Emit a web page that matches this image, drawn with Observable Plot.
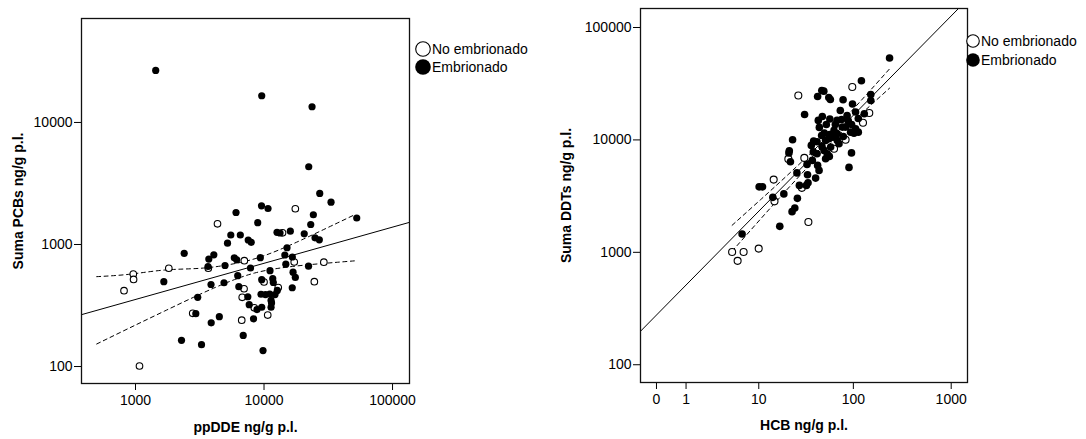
<!DOCTYPE html>
<html>
<head>
<meta charset="utf-8">
<script src="https://cdn.jsdelivr.net/npm/d3@7"></script>
<script src="https://cdn.jsdelivr.net/npm/@observablehq/plot@0.6"></script>
<style>
  html, body { margin: 0; padding: 0; background: #fff; }
  #wrap { position: relative; width: 1086px; height: 439px; overflow: hidden; background: #fff;
          font-family: "Liberation Sans", Arial, sans-serif; color: #000; }
  #left, #right { position: absolute; top: 0; }
  #left { left: 0; }
  #right { left: 540px; }
  .legend { position: absolute; font-size: 14px; line-height: 18px; }
  .legend .row { display: flex; align-items: center; height: 18px; white-space: nowrap; }
  .legend svg { display: block; margin-right: 1px; }
</style>
</head>
<body>
<div id="wrap">
  <div id="left"></div>
  <div id="right"></div>
  <div class="legend" id="legLeft" style="left:415px; top:40px;"></div>
  <div class="legend" id="legRight" style="left:966px; top:31px;"></div>
</div>
<script>
// ---------- Left panel: ppDDE vs Suma PCBs (ng/g p.l.) ----------
const pcbOpenDDE = [17520, 4345, 13930, 3686, 7027, 17180, 29200, 1816, 961, 966, 814, 10000, 24630, 6990, 12900, 6765, 8404, 2787, 6706, 10685, 1074];
const pcbOpenPCB = [1962, 1478, 1247, 639, 737, 719, 716, 639, 573, 517, 418, 493, 496, 434, 444, 369, 303, 273, 240, 264, 101];
const pcbFilledDDE = [1436, 9597, 23640, 22280, 27140, 33220, 6056, 9561, 10742, 24200, 52650, 8930, 23090, 5515, 6540, 5200, 7535, 7950, 12620, 13320, 16020, 20550, 24940, 26940, 15100, 2393, 4068, 3719, 3666, 5872, 6130, 9358, 14520, 16610, 14780, 22200, 4972, 7850, 11135, 16820, 17520, 1661, 3869, 4883, 6243, 9597, 11690, 11810, 6367, 12690, 16580, 3048, 7481, 9477, 10270, 11075, 12180, 11340, 11440, 11340, 7670, 8820, 9597, 2946, 4490, 3882, 8285, 2280, 3264, 6889, 9822];
const pcbFilledPCB = [26680, 16550, 13450, 4335, 2619, 2222, 1829, 2076, 1973, 1752, 1649, 1509, 1458, 1196, 1196, 1025, 1089, 1042, 1259, 1242, 1285, 1224, 1135, 1093, 940, 847, 823, 760, 660, 778, 749, 780, 820, 790, 690, 664, 673, 642, 610, 593, 537, 496, 470, 486, 555, 515, 525, 488, 451, 420, 442, 369, 373, 391, 389, 393, 389, 348, 332, 306, 321, 293, 306, 271, 256, 228, 246, 164, 151, 180, 135];
// fit in log10 space: log10(PCB) = a + b*log10(DDE)
const pcbFit = [1.6603, 0.2964];
// 95% confidence band of the mean
const pcbCiDDE   = [499, 906, 1697, 3177, 5438, 8511, 13320, 22800, 50430];
const pcbCiUpper = [545, 571, 618, 638, 686, 765, 910, 1174, 1748];
const pcbCiLower = [153, 208, 286, 391, 499, 585, 641, 684, 734];
const pcbXTicks = [1000, 10000, 100000];
const pcbYTicks = [100, 1000, 10000];
const pcbXLabel = "ppDDE ng/g p.l.";
const pcbYLabel = "Suma PCBs ng/g p.l.";

// ---------- Right panel: HCB vs Suma DDTs (ng/g p.l.) ----------
const ddtOpenHCB = [97.5, 26.8, 145.7, 125.6, 83.2, 63.2, 21.0, 31.0, 29.2, 14.6, 14.9, 34.2, 4.89, 6.71, 9.98, 5.70];
const ddtOpenDDT = [29590, 24860, 17380, 14220, 10040, 8350, 6780, 6920, 3745, 4437, 2840, 1860, 1006, 1006, 1079, 840];
const ddtFilledHCB = [235, 121, 47.2, 49.5, 42.7, 55.8, 57.9, 78.4, 151, 151, 98, 105.4, 129.5, 31.2, 47.8, 57.2, 67.9, 86.2, 88.7, 75.7, 95.9, 105.4, 112.4, 77, 83.2, 93.7, 101.5, 63.2, 68.3, 60.7, 56.1, 50.1, 47, 56.9, 68.3, 71.1, 51.7, 58.3, 47.4, 53.8, 49.8, 51.7, 56.5, 95.7, 90.2, 23.3, 38.8, 42.1, 38.5, 42.1, 21.5, 21.3, 22.1, 33.1, 42.7, 44.2, 25.9, 33.5, 40.7, 33.9, 32.6, 27.5, 11.0, 10.1, 18.8, 14.3, 26.2, 24.6, 23.0, 17.0, 6.44, 73.4, 44.5, 78.8, 36.7, 65.2, 52.6, 112.4, 43.4, 37.6];
const ddtFilledDDT = [53560, 33590, 27540, 27150, 24360, 23870, 22910, 22770, 25380, 22450, 20890, 17740, 17100, 16850, 16180, 15370, 14910, 16510, 14760, 15210, 13730, 12580, 11730, 13000, 13000, 11730, 11490, 12150, 11350, 10590, 10250, 11490, 10960, 11190, 9900, 9250, 9900, 8630, 8755, 7540, 8070, 6805, 7135, 7665, 5695, 10040, 9760, 9640, 7825, 7540, 8020, 7665, 6400, 6055, 5935, 5355, 5090, 4905, 4575, 4165, 3940, 3940, 3822, 3822, 3311, 3083, 3020, 2476, 2300, 1703, 1454, 18290, 12920, 10740, 8935, 13730, 13730, 15530, 14910, 6575];
// fit: log10(DDT) = a + b*log10(1 + HCB)
const ddtFit = [2.4421, 0.8869];
const ddtCiHCB   = [4.89, 10.42, 22.07, 51.35, 117.8, 235];
const ddtCiUpper = [1741, 2929, 5132, 10250, 21990, 42850];
const ddtCiLower = [1023, 1969, 3900, 8352, 16720, 28870];
const ddtXTicks = [0, 1, 10, 100, 1000];
const ddtYTicks = [100, 1000, 10000, 100000];
const ddtXLabel = "HCB ng/g p.l.";
const ddtYLabel = "Suma DDTs ng/g p.l.";

const legendLabels = ["No embrionado", "Embrionado"];

// ---------- helpers ----------
const zip = (xs, ys) => xs.map((x, i) => ({x, y: ys[i]}));
const fmt = d => String(d);
const FONT = "'Liberation Sans', Arial, sans-serif";
const dash = "4,3.5";

// ---------- Left chart ----------
const leftX = [380, 135500], leftY = [72.6, 71100];
const pcbReg = leftX.map(x => ({x, y: Math.pow(10, pcbFit[0] + pcbFit[1] * Math.log10(x))}));

const left = Plot.plot({
  width: 420, height: 439,
  marginLeft: 81, marginRight: 11, marginTop: 18, marginBottom: 56,
  x: {type: "log", domain: leftX},
  y: {type: "log", domain: leftY},
  style: {fontFamily: FONT, fontSize: "14px", color: "#000", background: "transparent", overflow: "visible"},
  marks: [
    Plot.axisX({ticks: pcbXTicks, tickFormat: fmt, tickSize: 7, tickPadding: 5, label: null, stroke: "#000"}),
    Plot.axisY({ticks: pcbYTicks, tickFormat: fmt, tickSize: 7, tickPadding: 2, label: null, stroke: "#000"}),
    Plot.line(pcbReg, {x: "x", y: "y", stroke: "#000", strokeWidth: 1, clip: true}),
    Plot.line(zip(pcbCiDDE, pcbCiUpper), {x: "x", y: "y", stroke: "#000", strokeWidth: 1, strokeDasharray: dash, curve: "natural"}),
    Plot.line(zip(pcbCiDDE, pcbCiLower), {x: "x", y: "y", stroke: "#000", strokeWidth: 1, strokeDasharray: dash, curve: "natural"}),
    Plot.dot(zip(pcbOpenDDE, pcbOpenPCB), {x: "x", y: "y", r: 3.3, fill: "#fff", stroke: "#000", strokeWidth: 1.1}),
    Plot.dot(zip(pcbFilledDDE, pcbFilledPCB), {x: "x", y: "y", r: 3.6, fill: "#000", stroke: "none"}),
    Plot.frame({stroke: "#111", strokeWidth: 1.3}),
    Plot.text([pcbXLabel], {text: d => d, frameAnchor: "bottom", dy: 44, fontWeight: "bold", fontSize: 14, textAnchor: "middle", lineAnchor: "middle", fill: "#000"}),
    Plot.text([pcbYLabel], {text: d => d, frameAnchor: "left", dx: -63, rotate: -90, fontWeight: "bold", fontSize: 14, textAnchor: "middle", lineAnchor: "middle", fill: "#000"})
  ]
});
document.getElementById("left").appendChild(left);

// ---------- Right chart ----------
const rightX = [-0.4545, 1466], rightY = [69.5, 147600];
const tr = x => Math.sign(x) * Math.log10(1 + Math.abs(x));
const ddtReg = rightX.map(x => ({x, y: Math.pow(10, ddtFit[0] + ddtFit[1] * tr(x))}));

const right = Plot.plot({
  width: 440, height: 439,
  marginLeft: 100, marginRight: 13, marginTop: 8, marginBottom: 57,
  x: {type: "symlog", domain: rightX, constant: 1},
  y: {type: "log", domain: rightY},
  style: {fontFamily: FONT, fontSize: "14px", color: "#000", background: "transparent", overflow: "visible"},
  marks: [
    Plot.axisX({ticks: ddtXTicks, tickFormat: fmt, tickSize: 7, tickPadding: 5, label: null, stroke: "#000"}),
    Plot.axisY({ticks: ddtYTicks, tickFormat: fmt, tickSize: 7, tickPadding: 2, label: null, stroke: "#000"}),
    Plot.line(ddtReg, {x: "x", y: "y", stroke: "#000", strokeWidth: 1, clip: true}),
    Plot.line(zip(ddtCiHCB, ddtCiUpper), {x: "x", y: "y", stroke: "#000", strokeWidth: 1, strokeDasharray: dash, curve: "natural"}),
    Plot.line(zip(ddtCiHCB, ddtCiLower), {x: "x", y: "y", stroke: "#000", strokeWidth: 1, strokeDasharray: dash, curve: "natural"}),
    Plot.dot(zip(ddtOpenHCB, ddtOpenDDT), {x: "x", y: "y", r: 3.5, fill: "#fff", stroke: "#000", strokeWidth: 1.1}),
    Plot.dot(zip(ddtFilledHCB, ddtFilledDDT), {x: "x", y: "y", r: 3.8, fill: "#000", stroke: "none"}),
    Plot.frame({stroke: "#111", strokeWidth: 1.3}),
    Plot.text([ddtXLabel], {text: d => d, frameAnchor: "bottom", dy: 43, fontWeight: "bold", fontSize: 14, textAnchor: "middle", lineAnchor: "middle", fill: "#000"}),
    Plot.text([ddtYLabel], {text: d => d, frameAnchor: "left", dx: -74, rotate: -90, fontWeight: "bold", fontSize: 14, textAnchor: "middle", lineAnchor: "middle", fill: "#000"})
  ]
});
document.getElementById("right").appendChild(right);

// ---------- Legends ----------
function buildLegend(el, size) {
  const r = size / 2 - 0.7;
  el.innerHTML = legendLabels.map((lab, i) => {
    const circ = i === 0
      ? `<circle cx="${size/2}" cy="${size/2}" r="${r}" fill="#fff" stroke="#000" stroke-width="1.1"/>`
      : `<circle cx="${size/2}" cy="${size/2}" r="${r + 0.5}" fill="#000"/>`;
    return `<div class="row"><svg width="${size}" height="${size}">${circ}</svg><span>${lab}</span></div>`;
  }).join("");
}
buildLegend(document.getElementById("legLeft"), 16);
buildLegend(document.getElementById("legRight"), 14);
document.getElementById("legRight").querySelectorAll(".row").forEach(r => r.style.height = "19px");
</script>
</body>
</html>
